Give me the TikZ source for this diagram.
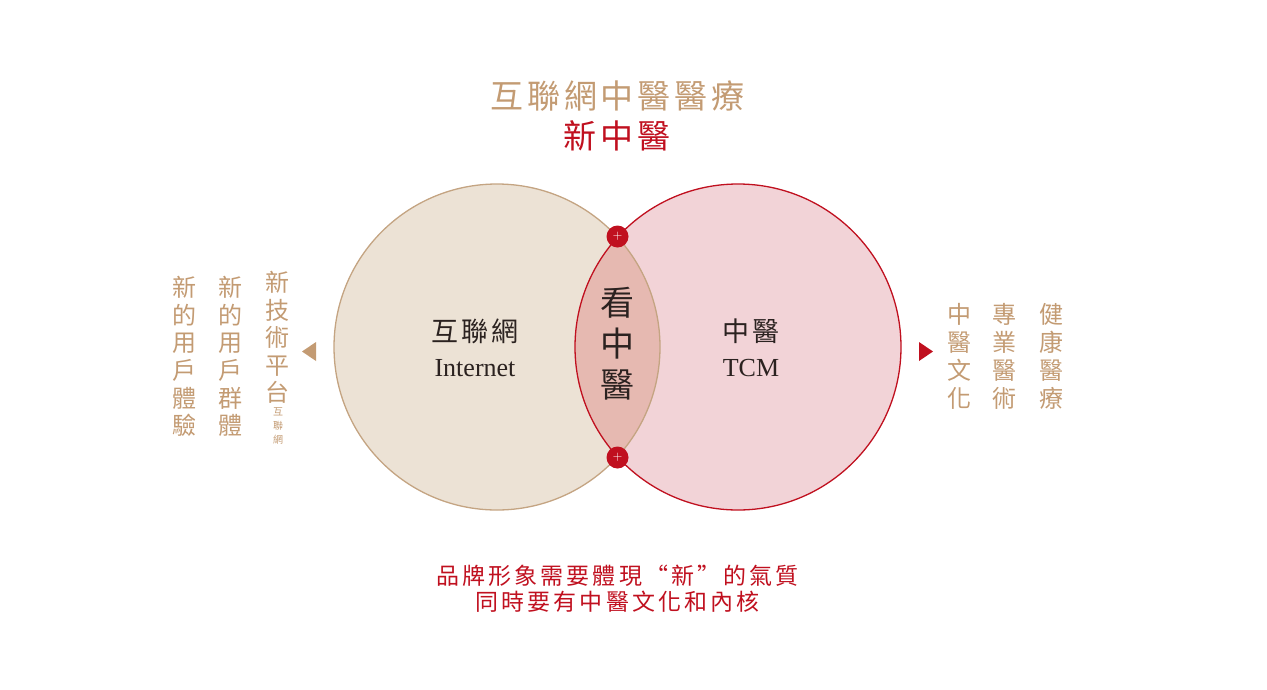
\documentclass[tikz,border=0pt]{standalone}
\usepackage{fontspec}
\newfontfamily\cjk{Noto Sans CJK TC}
\newfontfamily\cjkls[LetterSpace=10]{Noto Sans CJK TC}
\newfontfamily\cjkti[LetterSpace=12]{Noto Sans CJK TC}
\newfontfamily\cjkbot[LetterSpace=13.5]{Noto Sans CJK TC}
\newfontfamily\serifen{Liberation Serif}
\definecolor{tan}{HTML}{C39B73}
\definecolor{tanline}{HTML}{C4A482}
\definecolor{redc}{HTML}{C0101F}
\definecolor{lfill}{HTML}{ECE2D5}
\definecolor{rfill}{HTML}{F2D3D7}
\definecolor{lensfill}{HTML}{E6B9B1}
\definecolor{dark}{HTML}{2B2220}
\tikzset{
  vcol/.style={align=center, inner sep=0pt, font=\cjk\fontsize{24}{27.6}\selectfont},
  dotnode/.style={circle, fill=redc, minimum size=22pt, inner sep=0pt, text=white, font=\fontsize{13}{13}\selectfont},
}
\begin{document}
\begin{tikzpicture}[x=1pt,y=-1pt]
\useasboundingbox (0,0) rectangle (1267,689);
% circles fill
\fill[lfill] (497,347) circle (163pt);
\fill[rfill] (738,347) circle (163pt);
\begin{scope}
  \clip (497,347) circle (163pt);
  \fill[lensfill] (738,347) circle (163pt);
\end{scope}
\node[circle, draw=tanline, line width=1.3pt, minimum size=326pt, inner sep=0pt] (L) at (497,347) {};
\node[circle, draw=redc, line width=1.3pt, minimum size=326pt, inner sep=0pt] (R) at (738,347) {};
% intersection dots
\node[dotnode] (dotT) at (617.5,236.5) {+};
\node[dotnode] (dotB) at (617.5,457.5) {+};
% titles
\node[text=tan, inner sep=0pt, font=\cjkti\fontsize{33}{33}\selectfont] (title1) at (617.5,96) {互聯網中醫醫療};
\node[text=redc, inner sep=0pt, font=\cjkti\fontsize{33}{33}\selectfont] (title2) at (617,136) {新中醫};
% circle labels
\node[text=dark, inner sep=0pt, font=\cjkls\fontsize{27}{27}\selectfont] (lcn) at (475,331) {互聯網};
\node[text=dark, inner sep=0pt, font=\serifen\fontsize{26}{26}\selectfont] (len) at (475,368) {Internet};
\node[text=dark, inner sep=0pt, font=\cjkls\fontsize{27}{27}\selectfont] (rcn) at (751,331) {中醫};
\node[text=dark, inner sep=0pt, font=\serifen\fontsize{26}{26}\selectfont] (ren) at (751,368) {TCM};
\node[text=dark, align=center, inner sep=0pt, font=\cjk\fontsize{34}{41}\selectfont] (lens) at (617,344) {看\\中\\醫};
% left columns
\node[vcol, text=tan] (lc1) at (184,356.5) {新\\的\\用\\戶\\體\\驗};
\node[vcol, text=tan] (lc2) at (230,356.5) {新\\的\\用\\戶\\群\\體};
\node[vcol, text=tan] (lc3) at (277,337.5) {新\\技\\術\\平\\台};
\node[text=tan, align=center, inner sep=0pt, font=\cjk\fontsize{10}{14}\selectfont] (lc3s) at (278,426) {互\\聯\\網};
% right columns
\node[vcol, text=tan, font=\cjk\fontsize{24}{28}\selectfont] (rc1) at (959,356.5) {中\\醫\\文\\化};
\node[vcol, text=tan, font=\cjk\fontsize{24}{28}\selectfont] (rc2) at (1004,356.5) {專\\業\\醫\\術};
\node[vcol, text=tan, font=\cjk\fontsize{24}{28}\selectfont] (rc3) at (1051,356.5) {健\\康\\醫\\療};
% triangles
\fill[tan] (302,351.5) -- (316,342) -- (316,361) -- cycle;
\fill[redc] (933,351.5) -- (919,342) -- (919,361) -- cycle;
% bottom text
\node[text=redc, inner sep=0pt, font=\cjkbot\fontsize{23}{23}\selectfont] (b1) at (617.5,576) {品牌形象需要體現“新”的氣質};
\node[text=redc, inner sep=0pt, font=\cjkbot\fontsize{23}{23}\selectfont] (b2) at (617.5,602) {同時要有中醫文化和內核};
\end{tikzpicture}
\end{document}
